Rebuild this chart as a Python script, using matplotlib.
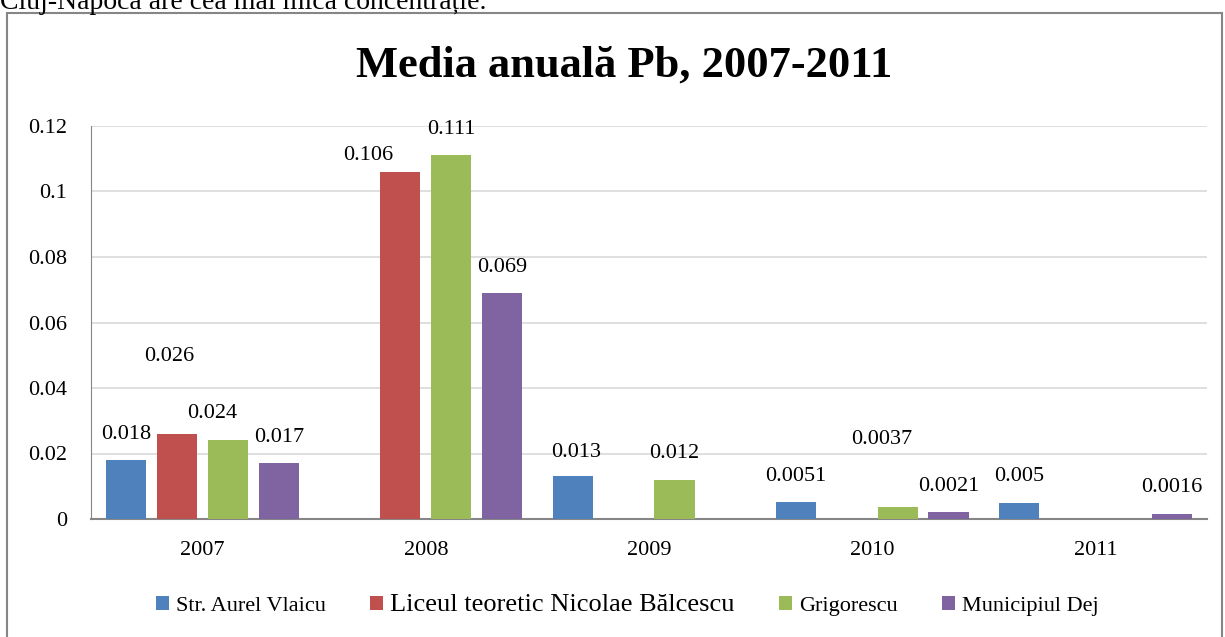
import numpy as np
import matplotlib
matplotlib.use("Agg")
import matplotlib.pyplot as plt
from matplotlib.patches import Rectangle, Patch

# data
years = ["2007", "2008", "2009", "2010", "2011"]
series_names = ["Str. Aurel Vlaicu", "Liceul teoretic Nicolae Bălcescu", "Grigorescu", "Municipiul Dej"]
aurel_vlaicu = [0.018, np.nan, 0.013, 0.0051, 0.005]
balcescu = [0.026, 0.106, np.nan, np.nan, np.nan]
grigorescu = [0.024, 0.111, 0.012, 0.0037, np.nan]
mun_dej = [0.017, 0.069, np.nan, 0.0021, 0.0016]
label_texts = [
    ["0.018", "", "0.013", "0.0051", "0.005"],
    ["0.026", "0.106", "", "", ""],
    ["0.024", "0.111", "0.012", "0.0037", ""],
    ["0.017", "0.069", "", "0.0021", "0.0016"],
]

colors = ["#4F81BD", "#C0504D", "#9BBB59", "#8064A2"]
serif = "Liberation Serif"

# labels that were dragged away from their default place (series, year) -> (dx, dy) in pixels
moved_labels = {(1, 0): (-8, 77), (2, 0): (-16, 27), (1, 1): (-32, 16), (2, 3): (-16, 67), (0, 2): (3, 24)}

fig = plt.figure(figsize=(12.25, 6.37), dpi=100)
ax = fig.add_axes([91 / 1225, 1 - 519 / 637, (1207 - 91) / 1225, (519 - 126) / 637])

# cropped sentence from the page above the chart
fig.text(0.0, 1 - 9 / 637, "Cluj-Napoca are cea mai mică concentrație.", fontsize=20,
         family=serif, va="baseline", ha="left")

# chart frame
fig.patches.append(Rectangle((7 / 1225, -0.01), 1215 / 1225, 1 - 13 / 637 + 0.01,
                             transform=fig.transFigure, fill=False, edgecolor="#868686", linewidth=1.5))

x = np.arange(len(years))
step = 0.228
width = 0.18
for i, vals in enumerate([aurel_vlaicu, balcescu, grigorescu, mun_dej]):
    pos = x + (i - 1.5) * step
    ax.bar(pos, vals, width=width, color=colors[i], zorder=3)
    for j, v in enumerate(vals):
        if np.isnan(v):
            continue
        dx, dy = moved_labels.get((i, j), (0, 26))
        ax.annotate(label_texts[i][j], (pos[j], v), xytext=(dx, dy), textcoords="offset pixels",
                    ha="center", va="center", fontsize=16, family=serif)

ax.set_xlim(-0.5, 4.5)
ax.set_ylim(0, 0.12)
ax.set_yticks([0, 0.02, 0.04, 0.06, 0.08, 0.1, 0.12])
ax.set_yticklabels(["0", "0.02", "0.04", "0.06", "0.08", "0.1", "0.12"])
ax.set_xticks(x)
ax.set_xticklabels(years)
for lab in ax.get_xticklabels() + ax.get_yticklabels():
    lab.set_family(serif)
    lab.set_fontsize(16)
ax.tick_params(axis="y", length=0, pad=17)
ax.tick_params(axis="x", length=0, pad=16)
ax.grid(axis="y", color="#D9D9D9", linewidth=1.2, zorder=0)
for s in ["top", "right"]:
    ax.spines[s].set_visible(False)
ax.spines["left"].set_color("#868686")
ax.spines["bottom"].set_color("#868686")
ax.spines["bottom"].set_linewidth(1.5)

fig.text(624 / 1225, 1 - 66 / 637, "Media anuală Pb, 2007-2011", fontsize=32, fontweight="bold",
         family=serif, ha="center", va="center")

handles = [Patch(facecolor=c) for c in colors]
leg = fig.legend(handles, series_names, loc="center", bbox_to_anchor=(627 / 1225, 1 - 605 / 637),
                 ncol=4, frameon=False, handlelength=0.6, handleheight=0.6, handletextpad=0.3,
                 columnspacing=2.0, prop={"family": serif, "size": 16})
leg.get_texts()[1].set_fontsize(19)

fig.savefig("out.png", dpi=100)
